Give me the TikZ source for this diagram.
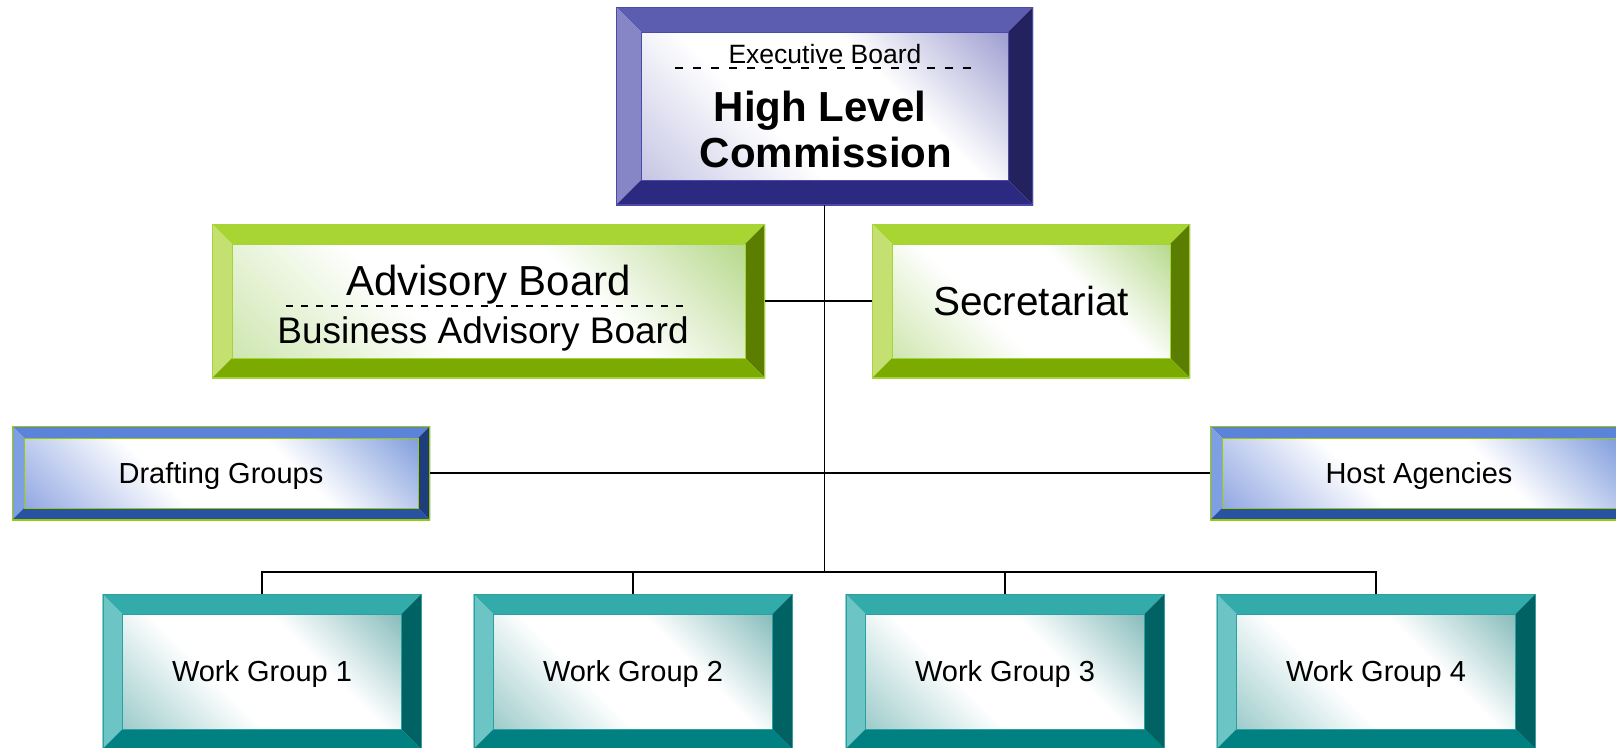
\documentclass[tikz,border=0pt]{standalone}
\usepackage{fontspec}
\setmainfont{Liberation Sans}
% purple scheme
\definecolor{puT}{HTML}{5C5CB0}\definecolor{puL}{HTML}{8686C6}\definecolor{puR}{HTML}{23225E}
\definecolor{puB}{HTML}{2B2A80}\definecolor{puS}{HTML}{9C9CD0}\definecolor{puU}{HTML}{C4C4E4}
\definecolor{puN}{HTML}{4A4AA8}
% green scheme
\definecolor{grT}{HTML}{A9D532}\definecolor{grL}{HTML}{C3E070}\definecolor{grR}{HTML}{5B7E00}
\definecolor{grB}{HTML}{7BAA00}\definecolor{grS}{HTML}{B5D88A}\definecolor{grU}{HTML}{CDE6AE}
\definecolor{grN}{HTML}{A4D43A}
% blue scheme
\definecolor{blT}{HTML}{5B83D8}\definecolor{blL}{HTML}{7EA0E2}\definecolor{blR}{HTML}{1F3C7C}
\definecolor{blB}{HTML}{2A52A2}\definecolor{blS}{HTML}{7F9CDC}\definecolor{blU}{HTML}{8FA6E2}
\definecolor{blN}{HTML}{99CC00}
% teal scheme
\definecolor{tlT}{HTML}{33ABAB}\definecolor{tlL}{HTML}{6CC4C4}\definecolor{tlR}{HTML}{006262}
\definecolor{tlB}{HTML}{008080}\definecolor{tlS}{HTML}{84BABA}\definecolor{tlU}{HTML}{9CCACA}
\definecolor{tlN}{HTML}{2AA0A0}
\pgfdeclareverticalshading{shpu}{100bp}{color(0bp)=(puU); color(14bp)=(puU); color(40bp)=(white); color(62bp)=(white); color(86bp)=(puS); color(100bp)=(puS)}
\pgfdeclareverticalshading{shgr}{100bp}{color(0bp)=(grU); color(14bp)=(grU); color(40bp)=(white); color(62bp)=(white); color(86bp)=(grS); color(100bp)=(grS)}
\pgfdeclareverticalshading{shbl}{100bp}{color(0bp)=(blU); color(14bp)=(blU); color(40bp)=(white); color(62bp)=(white); color(86bp)=(blS); color(100bp)=(blS)}
\pgfdeclareverticalshading{shtl}{100bp}{color(0bp)=(tlU); color(14bp)=(tlU); color(40bp)=(white); color(62bp)=(white); color(86bp)=(tlS); color(100bp)=(tlS)}
\tikzset{
  bevel/.style 2 args={rectangle, inner sep=0pt, outer sep=0pt, fill=white,
    path picture={
      \path (path picture bounding box.north west) coordinate (oNW)
            (path picture bounding box.north east) coordinate (oNE)
            (path picture bounding box.south west) coordinate (oSW)
            (path picture bounding box.south east) coordinate (oSE);
      \path ([shift={(#2pt,-#2pt)}]oNW) coordinate (iNW)
            ([shift={(-#2pt,-#2pt)}]oNE) coordinate (iNE)
            ([shift={(#2pt,#2pt)}]oSW) coordinate (iSW)
            ([shift={(-#2pt,#2pt)}]oSE) coordinate (iSE);
      \fill[fill=#1T] (oNW)--(oNE)--(iNE)--(iNW)--cycle;
      \fill[fill=#1L] (oNW)--(iNW)--(iSW)--(oSW)--cycle;
      \fill[fill=#1R] (oNE)--(oSE)--(iSE)--(iNE)--cycle;
      \fill[fill=#1B] (oSW)--(iSW)--(iSE)--(oSE)--cycle;
      \shade[shading=sh#1, shading angle=-45] (iNW) rectangle (iSE);
      \draw[draw=#1N, line width=1pt] (iNW) rectangle (iSE);
      \draw[draw=#1N, line width=2pt] (oNW) rectangle (oSE);
    }},
  small/.style={font=\fontsize{29}{33}\selectfont, text height=20.8pt, text depth=0pt},
  conn/.style={draw=black, line width=1.6pt},
  sep/.style={draw=black, line width=1.8pt, dash pattern=on 8pt off 10pt},
  sepb/.style={draw=black, line width=1.8pt, dash pattern=on 7pt off 8pt},
}
\begin{document}
\begin{tikzpicture}[x=1pt,y=-1pt]
\useasboundingbox (0,0) rectangle (1616,747);
\clip (0,0) rectangle (1616,747);
% top box
\node[bevel={pu}{25}, minimum width=417pt, minimum height=198pt] (hlc) at (824.5,106) {};
\node[anchor=base, font=\fontsize{26.5}{30}\selectfont] (exb) at (825,63) {Executive Board};
\draw[sep] (675,68) -- (975,68);
\node[anchor=base, font=\bfseries\fontsize{42}{46}\selectfont] (hl) at (820,121) {High Level};
\node[anchor=base, font=\bfseries\fontsize{42}{46}\selectfont] (cm) at (826,167) {Commission};
% advisory
\node[bevel={gr}{20}, minimum width=553pt, minimum height=154pt] (adv) at (488.5,301) {};
\node[anchor=base, font=\fontsize{42}{46}\selectfont] (advt) at (488.5,295) {Advisory Board};
\draw[sepb] (286,306) -- (684,306);
\node[anchor=base, font=\fontsize{37}{41}\selectfont] (bab) at (483,343) {Business Advisory Board};
% secretariat
\node[bevel={gr}{20}, minimum width=318pt, minimum height=154pt,
      font=\fontsize{40.5}{44}\selectfont, text height=29pt, text depth=0pt] (sec) at (1031,301) {Secretariat};
% drafting & host
\node[bevel={bl}{12}, minimum width=418pt, minimum height=94pt, small] (dg) at (221,473) {Drafting Groups};
\node[bevel={bl}{12}, minimum width=418pt, minimum height=94pt, small] (ha) at (1419,473) {Host Agencies};
% work groups
\node[bevel={tl}{20}, minimum width=319pt, minimum height=155pt, small] (wg1) at (262,671.5) {Work Group 1};
\node[bevel={tl}{20}, minimum width=319pt, minimum height=155pt, small] (wg2) at (633,671.5) {Work Group 2};
\node[bevel={tl}{20}, minimum width=319pt, minimum height=155pt, small] (wg3) at (1005,671.5) {Work Group 3};
\node[bevel={tl}{20}, minimum width=319pt, minimum height=155pt, small] (wg4) at (1376,671.5) {Work Group 4};
% connectors
\coordinate (bus) at (824.5,572);
\draw[conn] (hlc.south) -- (bus);
\draw[conn] (adv.east) -- (sec.west);
\draw[conn] (dg.east) -- (ha.west);
\draw[conn] (wg1.north) |- (bus) -| (wg4.north);
\draw[conn] (wg2.north) -- (wg2.north |- bus);
\draw[conn] (wg3.north) -- (wg3.north |- bus);
\end{tikzpicture}
\end{document}
